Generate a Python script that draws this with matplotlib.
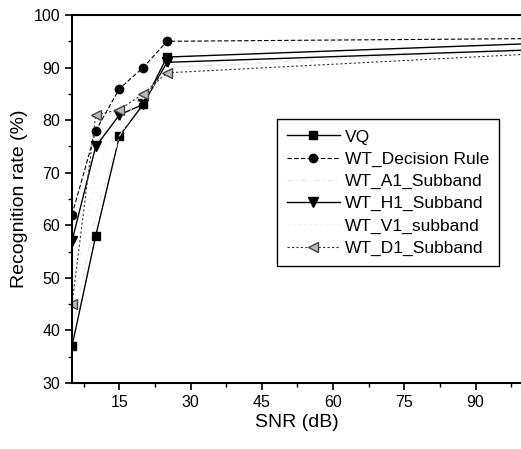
import matplotlib
matplotlib.use('Agg')
import matplotlib.pyplot as plt
from matplotlib.ticker import MultipleLocator

plt.rcParams['font.family'] = ['Liberation Sans', 'DejaVu Sans']

# SNR values (dB) and recognition rates (%)
snr = [5, 10, 15, 20, 25, 100]
vq = [37, 58, 77, 83, 92, 94.5]
decision_rule = [62, 78, 86, 90, 95, 95.5]
a1_subband = [40, 62, 77, 84, 90, 93.5]
h1_subband = [57, 75, 81, 83, 91, 93.3]
v1_subband = [45, 70, 80, 84, 90, 93]
d1_subband = [45, 81, 82, 85, 89, 92.5]

fig = plt.figure(figsize=(5.21, 4.49), dpi=100)
ax = fig.add_axes([72 / 521, 1 - 383 / 449, 1.002 - 72 / 521, (383 - 15) / 449])

# the last point sits at the right edge, no marker drawn there
marks = slice(0, 5)
ax.plot(snr, vq, color='black', lw=1.0, marker='s', ms=6, markevery=marks, label='VQ')
ax.plot(snr, decision_rule, color='black', lw=0.8, ls=(0, (4, 2)), marker='o', ms=6,
        markevery=marks, label='WT_Decision Rule')
ax.plot(snr, a1_subband, color='#e4e4e4', lw=0.8, ls=(0, (5, 3, 1, 3)), label='WT_A1_Subband')
ax.plot(snr, h1_subband, color='black', lw=1.0, marker='v', ms=7, markevery=marks,
        label='WT_H1_Subband')
ax.plot(snr, v1_subband, color='#eeeeee', lw=0.8, ls=(0, (2, 3)), label='WT_V1_subband')
ax.plot(snr, d1_subband, color='#333333', lw=0.8, ls=(0, (2, 2)), marker='<', ms=7,
        markevery=marks, mfc='#bbbbbb', mec='#444444', label='WT_D1_Subband')

ax.set_xlim(5, 99.8)
ax.set_ylim(30, 100)
ax.xaxis.set_major_locator(MultipleLocator(15))
ax.xaxis.set_minor_locator(MultipleLocator(7.5))
ax.yaxis.set_major_locator(MultipleLocator(10))
ax.yaxis.set_minor_locator(MultipleLocator(5))
ax.tick_params(which='major', direction='out', length=5, width=1.2, labelsize=11.5)
ax.tick_params(which='minor', direction='out', length=3, width=1.0)
for side in ['left', 'bottom', 'top']:
    ax.spines[side].set_linewidth(1.5)
ax.spines['right'].set_visible(False)

ax.set_xlabel('SNR (dB)', fontsize=14, labelpad=3)
ax.set_ylabel('Recognition rate (%)', fontsize=14, labelpad=4)

leg = ax.legend(loc='upper left', bbox_to_anchor=((277 - 72) / 450, (383 - 119) / 368),
                borderaxespad=0, fontsize=12.5, handlelength=3.0, handletextpad=0.3,
                labelspacing=0.4, borderpad=0.6, frameon=True, fancybox=False, framealpha=1)
leg.get_frame().set_edgecolor('black')
leg.get_frame().set_linewidth(1.0)

fig.savefig('out.png', dpi=100)
